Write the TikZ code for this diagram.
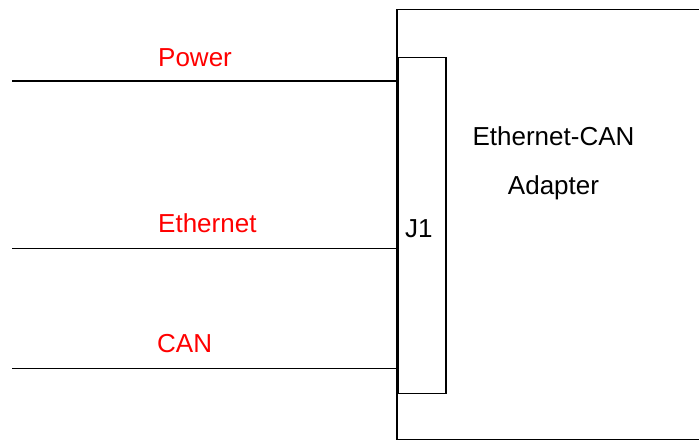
\documentclass[tikz,border=0pt]{standalone}
\usepackage{fontspec}
\setmainfont{Liberation Sans}
\definecolor{lblred}{RGB}{255,0,0}
\begin{document}
\begin{tikzpicture}[x=1pt,y=-1pt,
  wire/.style={line width=1.5pt},
  lbl/.style={anchor=base west,inner sep=0pt,font=\fontsize{26}{30}\selectfont},
  redlbl/.style={lbl,text=lblred}]
\useasboundingbox (0,0) rectangle (699,441);
\clip (0,0) rectangle (699,441);
\draw[wire] (397,9.5) -- (710,9.5) (397,9.5) -- (397,439.5) -- (710,439.5);
\node[draw,line width=1.5pt,minimum width=48pt,minimum height=335.5pt,inner sep=0pt,anchor=north west] (j1) at (397,57) {};
\coordinate (pw) at (12,81);
\coordinate (et) at (12,248.5);
\coordinate (cn) at (12,368.5);
\draw[wire] (pw) -- (pw -| j1.west);
\draw[wire] (et) -- (et -| j1.west);
\draw[wire] (cn) -- (cn -| j1.west);
\node[redlbl] (lp) at (158,67) {Power};
\node[redlbl] (le) at (158,233) {Ethernet};
\node[redlbl] (lc) at (157,352) {CAN};
\node[lbl] (lj) at (405,237) {J1};
\node[lbl,anchor=base] (a1) at (553.5,146) {Ethernet-CAN};
\node[lbl,anchor=base] (a2) at (553.5,194) {Adapter};
\end{tikzpicture}
\end{document}
